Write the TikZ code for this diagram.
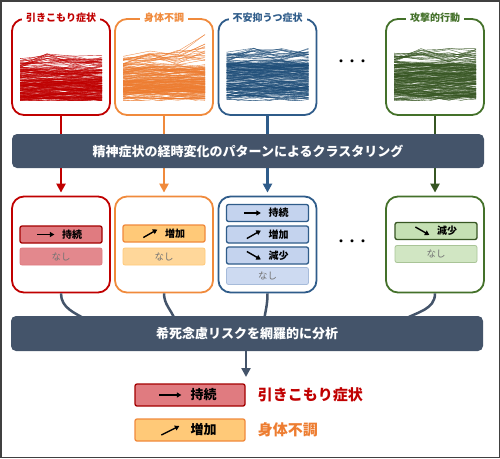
\documentclass[tikz,border=0pt]{standalone}
\usepackage{fontspec}
\setmainfont{Noto Sans CJK JP}
\usetikzlibrary{arrows.meta,positioning}
\definecolor{redc}{HTML}{C00000}
\definecolor{redtag}{HTML}{E07B80}
\definecolor{orangec}{HTML}{F08A3C}
\definecolor{orangeplot}{HTML}{ED7D31}
\definecolor{orangetag}{HTML}{FFC978}
\definecolor{bluec}{HTML}{2F5C8A}
\definecolor{blueplot}{HTML}{1F4E79}
\definecolor{bluetag}{HTML}{C4D3EE}
\definecolor{greenc}{HTML}{44712A}
\definecolor{greenplot}{HTML}{375623}
\definecolor{greentag}{HTML}{C5E0B4}
\definecolor{barc}{HTML}{44546A}

\tikzset{
  panel/.style={draw=#1, line width=1.8pt, rounded corners=12pt, fill=white,
    minimum width=98pt, minimum height=96pt, inner sep=0pt},
  ptitle/.style={fill=white, text=#1, inner xsep=4pt, inner ysep=1pt,
    font=\bfseries\fontsize{10}{10}\selectfont},
  bar/.style={fill=barc, rounded corners=5pt, minimum width=472pt, text=white,
    font=\bfseries\fontsize{13}{13}\selectfont},
  flow/.style={draw=#1, line width=2.4pt, -{Triangle[length=9pt,width=9pt]}},
  link/.style={draw=barc, line width=2.5pt},
  traj/.style={draw=#1, line width=0.4pt, opacity=0.85},
  tag/.style={rectangle, rounded corners=2pt, line width=1.3pt, inner sep=0pt,
    minimum width=82pt, minimum height=17pt, font=\bfseries\fontsize{10}{10}\selectfont},
  nashi/.style={tag, line width=0.8pt, text=black!55, font=\fontsize{9.5}{9.5}\selectfont},
  trend/.style={draw=black, line width=1.4pt, -{Triangle[length=4.5pt,width=5pt]}},
  legtag/.style={tag, minimum width=110pt, minimum height=22pt, font=\bfseries\fontsize{13}{13}\selectfont},
  legtext/.style={inner sep=0pt, font=\bfseries\fontsize{15}{15}\selectfont}
}

% trajectories: left x, colour, dense height, rise
\newcommand{\trajplot}[4]{%
  \begin{scope}
  \clip (#1,28) rectangle (#1+82,100.5);
  \foreach \k in {1,...,170}{%
    \pgfmathsetmacro\base{100-#3*rnd}%
    \pgfmathsetmacro\ya{\base+4*rand}%
    \pgfmathsetmacro\yb{\base+4*rand}%
    \pgfmathsetmacro\yc{\base+4*rand}%
    \pgfmathsetmacro\yd{\base+4*rand}%
    \draw[traj=#2] (#1,\ya) -- (#1+27,\yb) -- (#1+55,\yc) -- (#1+82,\yd);
  }%
  \foreach \k in {1,...,18}{%
    \pgfmathsetmacro\ya{100-#3-10*rnd}%
    \pgfmathsetmacro\yb{100-#3-3-12*rnd}%
    \pgfmathsetmacro\yc{100-#3-12*rnd-0.5*#4*rnd}%
    \pgfmathsetmacro\yd{100-#3-10*rnd-#4*rnd}%
    \draw[traj=#2] (#1,\ya) -- (#1+27,\yb) -- (#1+55,\yc) -- (#1+82,\yd);
  }%
  \end{scope}
}

\begin{document}
\begin{tikzpicture}[x=1pt,y=-1pt]
  \useasboundingbox (0,0) rectangle (500,458);
  \draw[black!75, line width=1.5pt] (0.75,0.75) rectangle (499.25,457.25);
  \pgfmathsetseed{11}

  % symptom panels
  \node[panel=redc] (p1) at (61,67) {};
  \node[panel=orangec] (p2) at (164,67) {};
  \node[panel=bluec] (p3) at (267.5,67) {};
  \node[panel=greenc] (p4) at (435,67) {};
  \trajplot{20}{redc}{32}{6}
  \trajplot{123}{orangeplot}{34}{22}
  \trajplot{226.5}{blueplot}{38}{6}
  \trajplot{394}{greenplot}{37}{6}
  \node[ptitle=redc] (t1) at (61,18) {引きこもり症状};
  \node[ptitle=orangec] (t2) at (164,18) {身体不調};
  \node[ptitle=bluec] (t3) at (267.5,18) {不安抑うつ症状};
  \node[ptitle=greenc] (t4) at (435,18) {攻撃的行動};
  \node[font=\bfseries\fontsize{11}{11}\selectfont] (dots1) at (352,63) {・・・};

  % cluster panels
  \node[panel=redc] (c1) at (61,244.5) {};
  \node[panel=orangec] (c2) at (164,244.5) {};
  \node[panel=bluec] (c3) at (267.5,244.5) {};
  \node[panel=greenc] (c4) at (435,244.5) {};
  \node[font=\bfseries\fontsize{11}{11}\selectfont] (dots2) at (352,243) {・・・};

  \foreach \a/\b/\col in {p1/c1/redc,p2/c2/orangec,p3/c3/bluec,p4/c4/greenplot}
    \draw[flow=\col, shorten >=3pt] (\a.south) -- (\b.north);

  \node[bar, minimum height=34pt] (b1) at (248,151) {精神症状の経時変化のパターンによるクラスタリング};

  % cluster tags
  \node[tag, fill=redtag, draw=redc!85!black] (r1) at (61,234.5) {\hspace*{22pt}持続};
  \node[nashi, fill=redtag!90!white, draw=redtag] (r2) at (61,256.5) {なし};
  \node[tag, fill=orangetag, draw=orangec] (o1) at (164,233.5) {\hspace*{22pt}増加};
  \node[nashi, fill=orangetag!75!white, draw=orangetag] (o2) at (164,256.5) {なし};
  \node[tag, fill=bluetag, draw=bluec] (u1) at (267.5,213) {\hspace*{22pt}持続};
  \node[tag, fill=bluetag, draw=bluec] (u2) at (267.5,234.5) {\hspace*{22pt}増加};
  \node[tag, fill=bluetag, draw=bluec] (u3) at (267.5,255.5) {\hspace*{22pt}減少};
  \node[nashi, fill=bluetag!85!white, draw=bluetag!80!bluec] (u4) at (267.5,276) {なし};
  \node[tag, fill=greentag, draw=greenplot] (g1) at (436,231) {\hspace*{22pt}減少};
  \node[nashi, fill=greentag!80!white, draw=greentag!80!greenplot] (g2) at (436,254) {なし};

  \draw[trend] ([xshift=18pt]r1.west) -- ++(17,0);
  \draw[trend] ([xshift=21pt,yshift=-4pt]o1.west) -- ++(14,-8);
  \draw[trend] ([xshift=18pt]u1.west) -- ++(17,0);
  \draw[trend] ([xshift=21pt,yshift=-4pt]u2.west) -- ++(14,-8);
  \draw[trend] ([xshift=21pt,yshift=4pt]u3.west) -- ++(14,8);
  \draw[trend] ([xshift=21pt,yshift=4pt]g1.west) -- ++(14,8);

  % joins into the analysis bar
  \coordinate (j1) at (87,320);
  \coordinate (j2) at (175,320);
  \coordinate (j3) at (264,320);
  \coordinate (j4) at (403,320);
  \draw[link] (c1.south) to[out=-90,in=150] (j1);
  \draw[link] (c2.south) to[out=-90,in=110] (j2);
  \draw[link] (c3.south) to[out=-90,in=80] (j3);
  \draw[link] (c4.south) to[out=-90,in=30] (j4);

  \node[bar, minimum height=35pt] (b2) at (247,333.5) {希死念慮リスクを網羅的に分析};
  \coordinate (res) at (246,377);
  \draw[flow=barc] (b2.south -| res) -- (res);

  % result legend
  \node[legtag, fill=redtag, draw=redc!85!black] (l1) at (190,395) {\hspace*{27pt}持続};
  \node[legtag, fill=orangetag, draw=orangec] (l2) at (190,430) {\hspace*{27pt}増加};
  \draw[trend] ([xshift=25pt]l1.west) -- ++(22,0);
  \draw[trend] ([xshift=27pt,yshift=-5pt]l2.west) -- ++(18,-9);
  \node[legtext, text=redc, right=12pt of l1] (lt1) {引きこもり症状};
  \node[legtext, text=orangeplot, right=12pt of l2] (lt2) {身体不調};
\end{tikzpicture}
\end{document}
